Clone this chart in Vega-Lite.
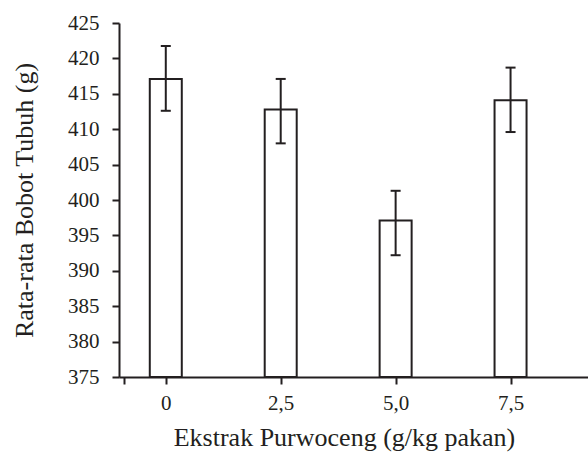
{
  "$schema": "https://vega.github.io/schema/vega-lite/v6.json",
  "width": 469,
  "height": 354,
  "autosize": "none",
  "padding": {"left": 119, "top": 23, "right": 0, "bottom": 75},
  "background": "white",
  "config": {
    "view": {"stroke": null},
    "font": "Liberation Serif",
    "axis": {
      "labelOverlap": false,
      "labelFlush": false,
      "labelFont": "Liberation Serif",
      "titleFont": "Liberation Serif",
      "labelFontSize": 21,
      "titleFontSize": 26,
      "titleFontWeight": "normal",
      "labelColor": "#231f20",
      "titleColor": "#231f20",
      "domainColor": "#231f20",
      "tickColor": "#231f20",
      "domainWidth": 2,
      "tickWidth": 2,
      "tickSize": 7,
      "grid": false
    }
  },
  "data": {
    "values": [
      {"dose": 0, "mean": 417.1, "lo": 412.6, "hi": 421.75},
      {"dose": 2.5, "mean": 412.8, "lo": 408.0, "hi": 417.1},
      {"dose": 5, "mean": 397.1, "lo": 392.2, "hi": 401.3},
      {"dose": 7.5, "mean": 414.1, "lo": 409.6, "hi": 418.7}
    ]
  },
  "encoding": {
    "x": {
      "field": "dose",
      "type": "quantitative",
      "scale": {"domain": [-0.909, 9.076], "nice": false, "zero": false},
      "axis": {
        "title": "Ekstrak Purwoceng (g/kg pakan)",
        "titleX": 225,
        "values": [-0.909, 0, 2.5, 5, 7.5],
        "labelExpr": "datum.value == 0 ? '0' : datum.value == 2.5 ? '2,5' : datum.value == 5 ? '5,0' : datum.value == 7.5 ? '7,5' : ''",
        "labelPadding": 8,
        "titlePadding": 11
      }
    }
  },
  "layer": [
    {
      "mark": {"type": "bar", "width": 32, "fill": "white", "stroke": "#231f20", "strokeWidth": 2},
      "encoding": {
        "y": {
          "field": "mean",
          "type": "quantitative",
          "scale": {"domain": [375, 425], "nice": false, "zero": false},
          "axis": {"title": "Rata-rata Bobot Tubuh (g)", "values": [375, 380, 385, 390, 395, 400, 405, 410, 415, 420, 425], "labelPadding": 13, "titlePadding": 30}
        },
        "y2": {"datum": 375}
      }
    },
    {
      "mark": {"type": "rule", "stroke": "#231f20", "strokeWidth": 2},
      "encoding": {
        "y": {"field": "lo", "type": "quantitative",
          "axis": {"title": "Rata-rata Bobot Tubuh (g)", "values": [375, 380, 385, 390, 395, 400, 405, 410, 415, 420, 425], "labelPadding": 13, "titlePadding": 30}},
        "y2": {"field": "hi"}
      }
    },
    {
      "mark": {"type": "tick", "orient": "horizontal", "size": 10, "thickness": 2, "color": "#231f20", "opacity": 1},
      "encoding": {"y": {"field": "lo", "type": "quantitative",
        "axis": {"title": "Rata-rata Bobot Tubuh (g)", "values": [375, 380, 385, 390, 395, 400, 405, 410, 415, 420, 425], "labelPadding": 13, "titlePadding": 30}}}
    },
    {
      "mark": {"type": "tick", "orient": "horizontal", "size": 10, "thickness": 2, "color": "#231f20", "opacity": 1},
      "encoding": {"y": {"field": "hi", "type": "quantitative",
        "axis": {"title": "Rata-rata Bobot Tubuh (g)", "values": [375, 380, 385, 390, 395, 400, 405, 410, 415, 420, 425], "labelPadding": 13, "titlePadding": 30}}}
    }
  ]
}
